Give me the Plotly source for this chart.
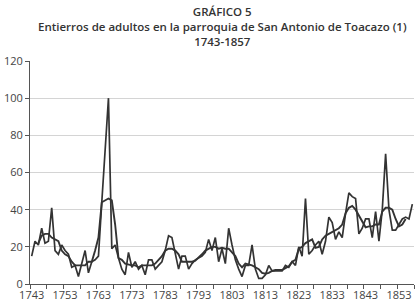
import plotly.graph_objects as go

years = list(range(1743, 1858))
entierros = [
    15, 23, 21, 30, 22, 23, 41, 18, 16, 21,   # 1743-1752
    18, 16, 9, 10, 4, 11, 18, 6, 12, 13,      # 1753-1762
    15, 44, 72, 100, 19, 21, 14, 8, 5, 17,    # 1763-1772
    9, 12, 8, 10, 5, 13, 13, 8, 10, 12,       # 1773-1782
    18, 26, 25, 16, 8, 15, 15, 8, 11, 13,     # 1783-1792
    14, 15, 17, 24, 18, 25, 12, 19, 11, 30,   # 1793-1802
    21, 13, 8, 4, 10, 10, 21, 8, 3, 3,        # 1803-1812
    5, 10, 7, 7, 7, 7, 10, 9, 12, 10,         # 1813-1822
    20, 15, 46, 16, 18, 21, 23, 16, 23, 36,   # 1823-1832
    33, 24, 28, 25, 38, 49, 47, 46, 27, 30,   # 1833-1842
    35, 35, 25, 39, 23, 40, 70, 40, 29, 29,   # 1843-1852
    32, 35, 36, 35, 43                        # 1853-1857
]

ma_years = list(range(1745, 1856))
media_movil = [
    22, 26, 27, 27, 25, 24, 23, 18,           # 1745-1752
    16, 15, 12, 10, 10, 10, 10, 12, 12, 18,   # 1753-1762
    25, 44, 45, 46, 45, 32, 14, 13, 11, 10.5, # 1763-1772
    10, 10, 9, 10, 10, 10, 10, 11, 13, 15,    # 1773-1782
    18, 19, 19, 18, 16, 12, 12, 12, 12, 12.5, # 1783-1792
    14, 16, 18, 19, 20, 20, 19, 19.5, 19, 19, # 1793-1802
    17, 15, 11, 9, 11, 10.5, 10, 9, 8, 6,     # 1803-1812
    5.5, 6, 7, 7.5, 7.5, 7.5, 8.5, 9.5, 12, 13,  # 1813-1822
    19, 20, 22, 23, 24, 19.5, 20, 24, 26, 27, # 1823-1832
    28, 29, 30, 32, 38, 41, 42, 40, 37, 34,   # 1833-1842
    30.5, 31, 31, 32, 32, 39, 41, 41, 40, 35, # 1843-1852
    31, 32, 35                                # 1853-1855
]

tick_labels = list(range(1743, 1854, 10))

line_color = "#333333"
font_family = "Open Sans, Lato, sans-serif"

fig = go.Figure()
fig.add_trace(go.Scatter(x=years, y=entierros, mode="lines",
                         line=dict(color=line_color, width=1.7), showlegend=False))
fig.add_trace(go.Scatter(x=ma_years, y=media_movil, mode="lines",
                         line=dict(color=line_color, width=1.9), showlegend=False))

fig.update_layout(
    width=418, height=306,
    margin=dict(l=25, r=4, t=61, b=20),
    paper_bgcolor="white", plot_bgcolor="white",
    font=dict(family=font_family, size=10, color="#333"),
    annotations=[
        dict(text="GRÁFICO 5<br>Entierros de adultos en la parroquia de San Antonio de Toacazo (1)<br>1743-1857",
             x=0.5, y=1, xref="paper", yref="paper", xanchor="center", yanchor="bottom",
             yshift=10, showarrow=False, align="center",
             font=dict(family=font_family, size=11.5, color="#333", weight=600)),
    ],
)

fig.update_xaxes(
    range=[1742.5, 1857.5], tickmode="array", tickvals=tick_labels,
    ticktext=[str(t) for t in tick_labels], ticks="",
    showline=True, linecolor="#555", linewidth=1, showgrid=False, zeroline=False,
    tickfont=dict(size=11, color="#444"), ticklabelstandoff=1,
    minor=dict(ticks="outside", tick0=1742.5, dtick=5, ticklen=4, tickcolor="#555", showgrid=False),
)
fig.update_yaxes(
    range=[0, 120], dtick=20, ticks="outside", ticklen=4, tickcolor="#555",
    showline=True, linecolor="#555", linewidth=1,
    showgrid=True, gridcolor="#d4d4d4", gridwidth=1, zeroline=False,
    tickfont=dict(size=11, color="#444"),
)

fig.write_html("out.html")
